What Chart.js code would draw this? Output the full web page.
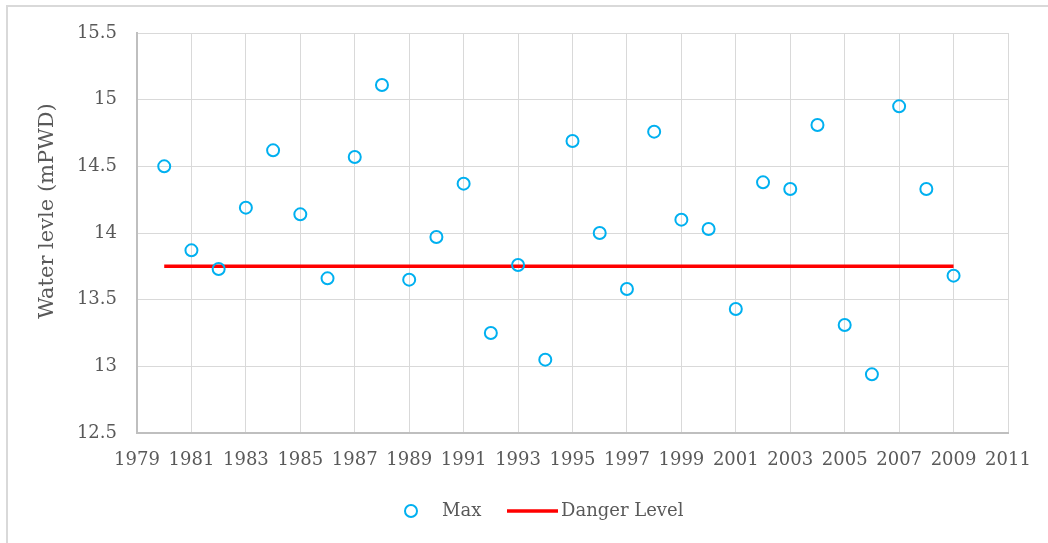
<!DOCTYPE html>
<html><head><meta charset="utf-8">
<script src="https://cdn.jsdelivr.net/npm/chart.js@4.4.1/dist/chart.umd.min.js"></script>
<style>
html,body{margin:0;padding:0;background:#fff;}
#wrap{position:absolute;left:0;top:0;width:1048px;height:543px;}
</style></head>
<body><div id="wrap"><canvas id="c" width="1048" height="543"></canvas></div>
<script>
const years = [1980,1981,1982,1983,1984,1985,1986,1987,1988,1989,1990,1991,1992,1993,1994,1995,1996,1997,1998,1999,2000,2001,2002,2003,2004,2005,2006,2007,2008,2009];
const maxLevels = [14.50,13.87,13.73,14.19,14.62,14.14,13.66,14.57,15.11,13.65,13.97,14.37,13.25,13.76,13.05,14.69,14.00,13.58,14.76,14.10,14.03,13.43,14.38,14.33,14.81,13.31,12.94,14.95,14.33,13.68];
const dangerYears = [1980,2009];
const dangerLevel = [13.75,13.75];
const xTicks = [1979,2011,2];
const yTicks = [12.5,15.5,0.5];
const yTitle = 'Water levle (mPWD)';
const FONT = "'DejaVu Serif', 'Liberation Serif', serif";
const TXT = '#595959';

const frame = {
  id:'frame',
  beforeDraw(chart){
    const c = chart.ctx;
    c.save();
    c.fillStyle='#fff'; c.fillRect(0,0,chart.width,chart.height);
    c.strokeStyle='#d9d9d9'; c.lineWidth=2;
    c.beginPath(); c.moveTo(7,chart.height); c.lineTo(7,6); c.lineTo(chart.width,6); c.stroke();
    c.restore();
  },
  afterDraw(chart){
    const c = chart.ctx, a = chart.chartArea;
    c.save();
    // y axis title
    c.fillStyle = TXT; c.font = '21px ' + FONT;
    c.textAlign='center'; c.textBaseline='middle';
    c.translate(48, 211); c.rotate(-Math.PI/2);
    c.fillText(yTitle, 0, 0);
    c.restore();
    // legend
    const ds = chart.data.datasets;
    c.save();
    c.font = '18px ' + FONT; c.fillStyle = TXT; c.textBaseline='middle'; c.textAlign='left';
    const ly = 511;
    c.strokeStyle = ds[0].borderColor; c.lineWidth = 2;
    c.beginPath(); c.arc(411, ly, 6, 0, Math.PI*2); c.stroke();
    c.fillText(ds[0].label, 442, ly);
    c.strokeStyle = ds[1].borderColor; c.lineWidth = 3.5;
    c.beginPath(); c.moveTo(507, ly); c.lineTo(558, ly); c.stroke();
    c.fillText(ds[1].label, 561, ly);
    c.restore();
  }
};

new Chart(document.getElementById('c'), {
  type:'scatter',
  data:{
    datasets:[
      {label:'Max', data: years.map((y,i)=>({x:y,y:maxLevels[i]})),
       showLine:false, pointStyle:'circle', pointRadius:6, pointHoverRadius:6,
       borderColor:'#00b0f0', backgroundColor:'rgba(0,0,0,0)', pointBorderWidth:2, borderWidth:2},
      {label:'Danger Level', data: dangerYears.map((y,i)=>({x:y,y:dangerLevel[i]})),
       showLine:true, pointRadius:0, borderColor:'#ff0000', backgroundColor:'#ff0000', borderWidth:3.5}
    ]
  },
  options:{
    responsive:false, animation:false, devicePixelRatio:1,
    layout:{padding:{left:20,right:40,top:33,bottom:62}},
    scales:{
      x:{type:'linear', min:xTicks[0], max:xTicks[1],
         ticks:{stepSize:xTicks[2], color:TXT, font:{family:FONT,size:18}, maxRotation:0, autoSkip:false, padding:17,
                callback:v=>String(v)},
         grid:{color:'#d9d9d9', lineWidth:1, drawTicks:false},
         border:{color:'#bfbfbf', width:2},
         afterFit(s){ s.height = 48; }},
      y:{min:yTicks[0], max:yTicks[1],
         ticks:{stepSize:yTicks[2], color:TXT, font:{family:FONT,size:18}, padding:20,
                callback:v=>String(v)},
         grid:{color:'#d9d9d9', lineWidth:1, drawTicks:false},
         border:{color:'#bfbfbf', width:2},
         afterFit(s){ s.width = 117; }}
    },
    plugins:{ legend:{display:false}, tooltip:{enabled:false} }
  },
  plugins:[frame]
});
</script></body></html>
